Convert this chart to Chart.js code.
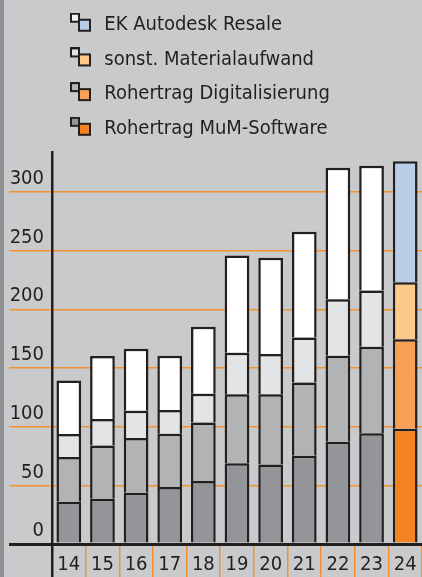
<!DOCTYPE html>
<html><head><meta charset="utf-8">
<script src="https://cdn.jsdelivr.net/npm/chart.js@4"></script>
<style>
html,body{margin:0;padding:0;}
body{width:422px;height:577px;overflow:hidden;background:linear-gradient(to right,#8f9093 0,#8f9093 4px,#c9cacc 4px,#c9cacc 100%);}
canvas{display:block;}
</style></head><body>
<canvas id="c" width="422" height="577"></canvas>
<script>
// ---- data ----
const categories = ['14','15','16','17','18','19','20','21','22','23','24'];
const seriesNames = ['Rohertrag MuM-Software','Rohertrag Digitalisierung','sonst. Materialaufwand','EK Autodesk Resale'];
const mumSoftware     = [36.0, 38.6, 43.7, 48.5, 53.6, 68.7, 67.8, 75.2, 87.1, 94.3, 98.2];
const digitalisierung = [38.1, 45.4, 46.6, 45.5, 50.0, 58.8, 59.7, 62.5, 73.3, 73.7, 76.3];
const materialaufwand = [19.6, 22.4, 23.2, 20.1, 24.4, 35.4, 34.3, 38.3, 48.2, 47.9, 48.6];
const ekAutodesk      = [45.7, 53.7, 52.8, 46.3, 57.1, 82.9, 82.0, 90.0, 111.9, 106.3, 103.1];
const yTicks = [0, 50, 100, 150, 200, 250, 300];

// ---- styles ----
const grayColors = ['#939598', '#b2b3b5', '#e3e4e6', '#ffffff'];
const hiColors   = ['#f58220', '#f9a055', '#fdc98a', '#b9cde6'];
const iconBack   = ['#939598', '#b2b3b5', '#e3e4e6', '#f4f4f4'];
const INK = '#231f20';
const ORANGE = '#f39233';
const FONT = "'DejaVu Sans Condensed','Liberation Sans Narrow',sans-serif";
const FS = 20;

function makeIcon(back, front) {
  const c = document.createElement('canvas');
  c.width = 21; c.height = 24;
  const g = c.getContext('2d');
  const ox = 0, oy = 0;
  g.lineWidth = 2;
  g.fillStyle = back; g.strokeStyle = INK;
  g.fillRect(ox, oy, 10, 10); g.strokeRect(ox + 1, oy + 1, 8, 8);
  g.fillStyle = front;
  g.fillRect(ox + 8, oy + 6, 13, 13); g.strokeRect(ox + 9, oy + 7, 11, 11);
  return c;
}
const icons = grayColors.map((_, i) => makeIcon(iconBack[i], hiColors[i]));

const seriesValues = [mumSoftware, digitalisierung, materialaufwand, ekAutodesk];
const last = categories.length - 1;
const datasets = seriesValues.map((vals, i) => ({
  label: seriesNames[i],
  data: vals,
  backgroundColor: categories.map((_, j) => j === last ? hiColors[i] : grayColors[i]),
  borderColor: INK,
  borderWidth: 2.5,
  borderSkipped: 'start',
  categoryPercentage: 1,
  barPercentage: 0.735
}));

new Chart(document.getElementById('c'), {
  type: 'bar',
  data: { labels: categories, datasets },
  options: {
    responsive: false,
    animation: false,
    layout: { padding: 0 },
    plugins: {
      tooltip: { enabled: false },
      title: { display: true, text: '', weight: 500, padding: { top: 0, bottom: 2.2 }, font: { size: 1, lineHeight: 1 } },
      legend: {
        position: 'top',
        align: 'start',
        fullSize: false,
        reverse: true,
        labels: {
          usePointStyle: true,
          pointStyleWidth: 27.6,
          padding: 14.7,
          color: INK,
          font: { family: FONT, size: FS },
          generateLabels: (chart) => {
            const items = Chart.defaults.plugins.legend.labels.generateLabels(chart);
            items.forEach(it => { it.pointStyle = icons[it.datasetIndex]; it.lineWidth = 0; });
            return items;
          }
        }
      }
    },
    scales: {
      x: {
        stacked: true,
        afterFit: s => { s.height = 33; },
        ticks: { color: INK, font: { family: FONT, size: FS }, padding: -24.5, maxRotation: 0, autoSkip: false },
        grid: {
          offset: true, drawOnChartArea: false, drawTicks: true, tickLength: 33,
          color: ctx => ctx.index === 0 ? INK : ORANGE,
          lineWidth: ctx => ctx.index === 0 ? 2.5 : 1.5
        },
        border: { display: true, color: INK, width: 3 }
      },
      y: {
        stacked: true,
        min: 0, max: 334,
        afterBuildTicks: s => { s.ticks = yTicks.map(v => ({ value: v })); },
        afterFit: s => { s.width = 52; },
        ticks: { color: INK, font: { family: FONT, size: FS }, padding: -35, labelOffset: -13 },
        grid: {
          drawTicks: true, tickLength: 43,
          color: ctx => (ctx.tick && ctx.tick.value === 0) ? INK : ORANGE,
          lineWidth: ctx => (ctx.tick && ctx.tick.value === 0) ? 3 : 1.5
        },
        border: { display: true, color: INK, width: 2.5 }
      }
    }
  }
});
</script>
</body></html>
